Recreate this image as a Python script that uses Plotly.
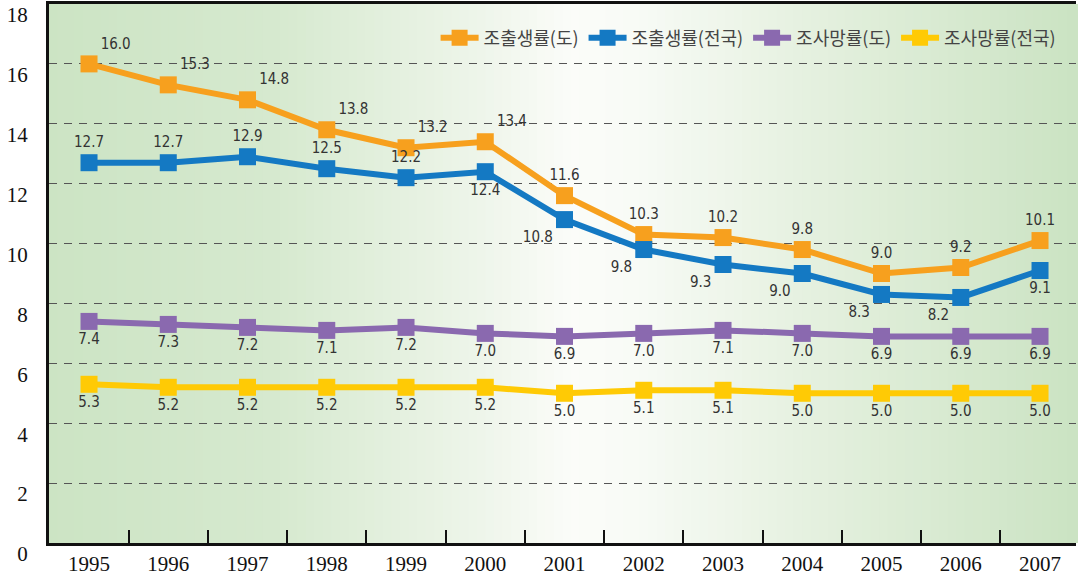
import plotly.graph_objects as go

years = ["1995", "1996", "1997", "1998", "1999", "2000", "2001",
         "2002", "2003", "2004", "2005", "2006", "2007"]
birth_do = [16.0, 15.3, 14.8, 13.8, 13.2, 13.4, 11.6, 10.3, 10.2, 9.8, 9.0, 9.2, 10.1]
birth_nat = [12.7, 12.7, 12.9, 12.5, 12.2, 12.4, 10.8, 9.8, 9.3, 9.0, 8.3, 8.2, 9.1]
death_do = [7.4, 7.3, 7.2, 7.1, 7.2, 7.0, 6.9, 7.0, 7.1, 7.0, 6.9, 6.9, 6.9]
death_nat = [5.3, 5.2, 5.2, 5.2, 5.2, 5.2, 5.0, 5.1, 5.1, 5.0, 5.0, 5.0, 5.0]
series_names = ["조출생률(도)", "조출생률(전국)", "조사망률(도)", "조사망률(전국)"]
y_ticks = [0, 2, 4, 6, 8, 10, 12, 14, 16, 18]

colors = ["#F7A01E", "#1479C3", "#8A69AF", "#FFCA05"]
label_font = dict(family="DejaVu Sans Condensed, sans-serif", size=15, color="#333333")

pos_birth_do = ["top right"] * 6 + ["top center"] * 7
pos_birth_nat = ["top center"] * 5 + ["bottom center"] + ["bottom left"] * 6 + ["bottom center"]
pos_death = ["bottom center"] * 13

fig = go.Figure()
for vals, name, col, pos in [
    (birth_do, series_names[0], colors[0], pos_birth_do),
    (birth_nat, series_names[1], colors[1], pos_birth_nat),
    (death_do, series_names[2], colors[2], pos_death),
    (death_nat, series_names[3], colors[3], pos_death),
]:
    fig.add_trace(go.Scatter(
        x=years, y=vals, name=name, mode="lines+markers+text",
        line=dict(color=col, width=6),
        marker=dict(symbol="square", size=17, color=col),
        texttemplate="%{y:.1f}", textposition=pos, textfont=label_font,
        cliponaxis=False,
    ))

# horizontal background gradient (green -> white -> green)
stops = [(0.0, (204, 228, 196)), (0.22, (214, 233, 207)), (0.42, (238, 245, 234)),
         (0.51, (251, 252, 249)), (0.57, (248, 251, 246)), (0.75, (228, 240, 222)),
         (1.0, (203, 227, 195))]

def grad(t):
    for (t0, c0), (t1, c1) in zip(stops[:-1], stops[1:]):
        if t0 <= t <= t1:
            f = (t - t0) / (t1 - t0)
            return tuple(round(a + (b - a) * f) for a, b in zip(c0, c1))
    return stops[-1][1]

N = 120
shapes = []
for i in range(N):
    c = grad((i + 0.5) / N)
    shapes.append(dict(type="rect", xref="paper", yref="paper",
                       x0=i / N, x1=(i + 1) / N + 0.002, y0=0, y1=1,
                       fillcolor="rgb(%d,%d,%d)" % c, line=dict(width=0),
                       layer="below"))

fig.update_layout(
    width=1078, height=576,
    margin=dict(l=49, r=2, t=4, b=33),
    paper_bgcolor="white", plot_bgcolor="rgba(0,0,0,0)",
    shapes=shapes,
    showlegend=True,
    legend=dict(orientation="h", x=0.985, xanchor="right", y=0.937, yanchor="middle",
                bgcolor="rgba(0,0,0,0)", itemwidth=38,
                font=dict(family="Noto Sans CJK KR", size=18, color="#444444"),
                traceorder="normal"),
    xaxis=dict(type="category", range=[-0.505, 12.454], tickson="boundaries",
               ticks="inside", ticklen=13, tickwidth=2, tickcolor="#111111",
               showline=True, linewidth=3, linecolor="#111111", mirror=True,
               showgrid=False, zeroline=False, automargin=False,
               tickfont=dict(family="Liberation Serif, serif", size=21, color="#111111")),
    yaxis=dict(range=[0, 18], tickvals=y_ticks, ticks="",
               showline=True, linewidth=3, linecolor="#111111",
               showgrid=True, gridcolor="#555555", gridwidth=1.4, griddash="8px,7px",
               zeroline=False, ticklabelstandoff=14, ticklabelshift=11, automargin=False,
               tickfont=dict(family="Liberation Serif, serif", size=21, color="#111111")),
)

fig.write_html("out.html", config={"displayModeBar": False},
               post_script="document.body.style.margin='0';document.body.style.overflow='hidden';")
